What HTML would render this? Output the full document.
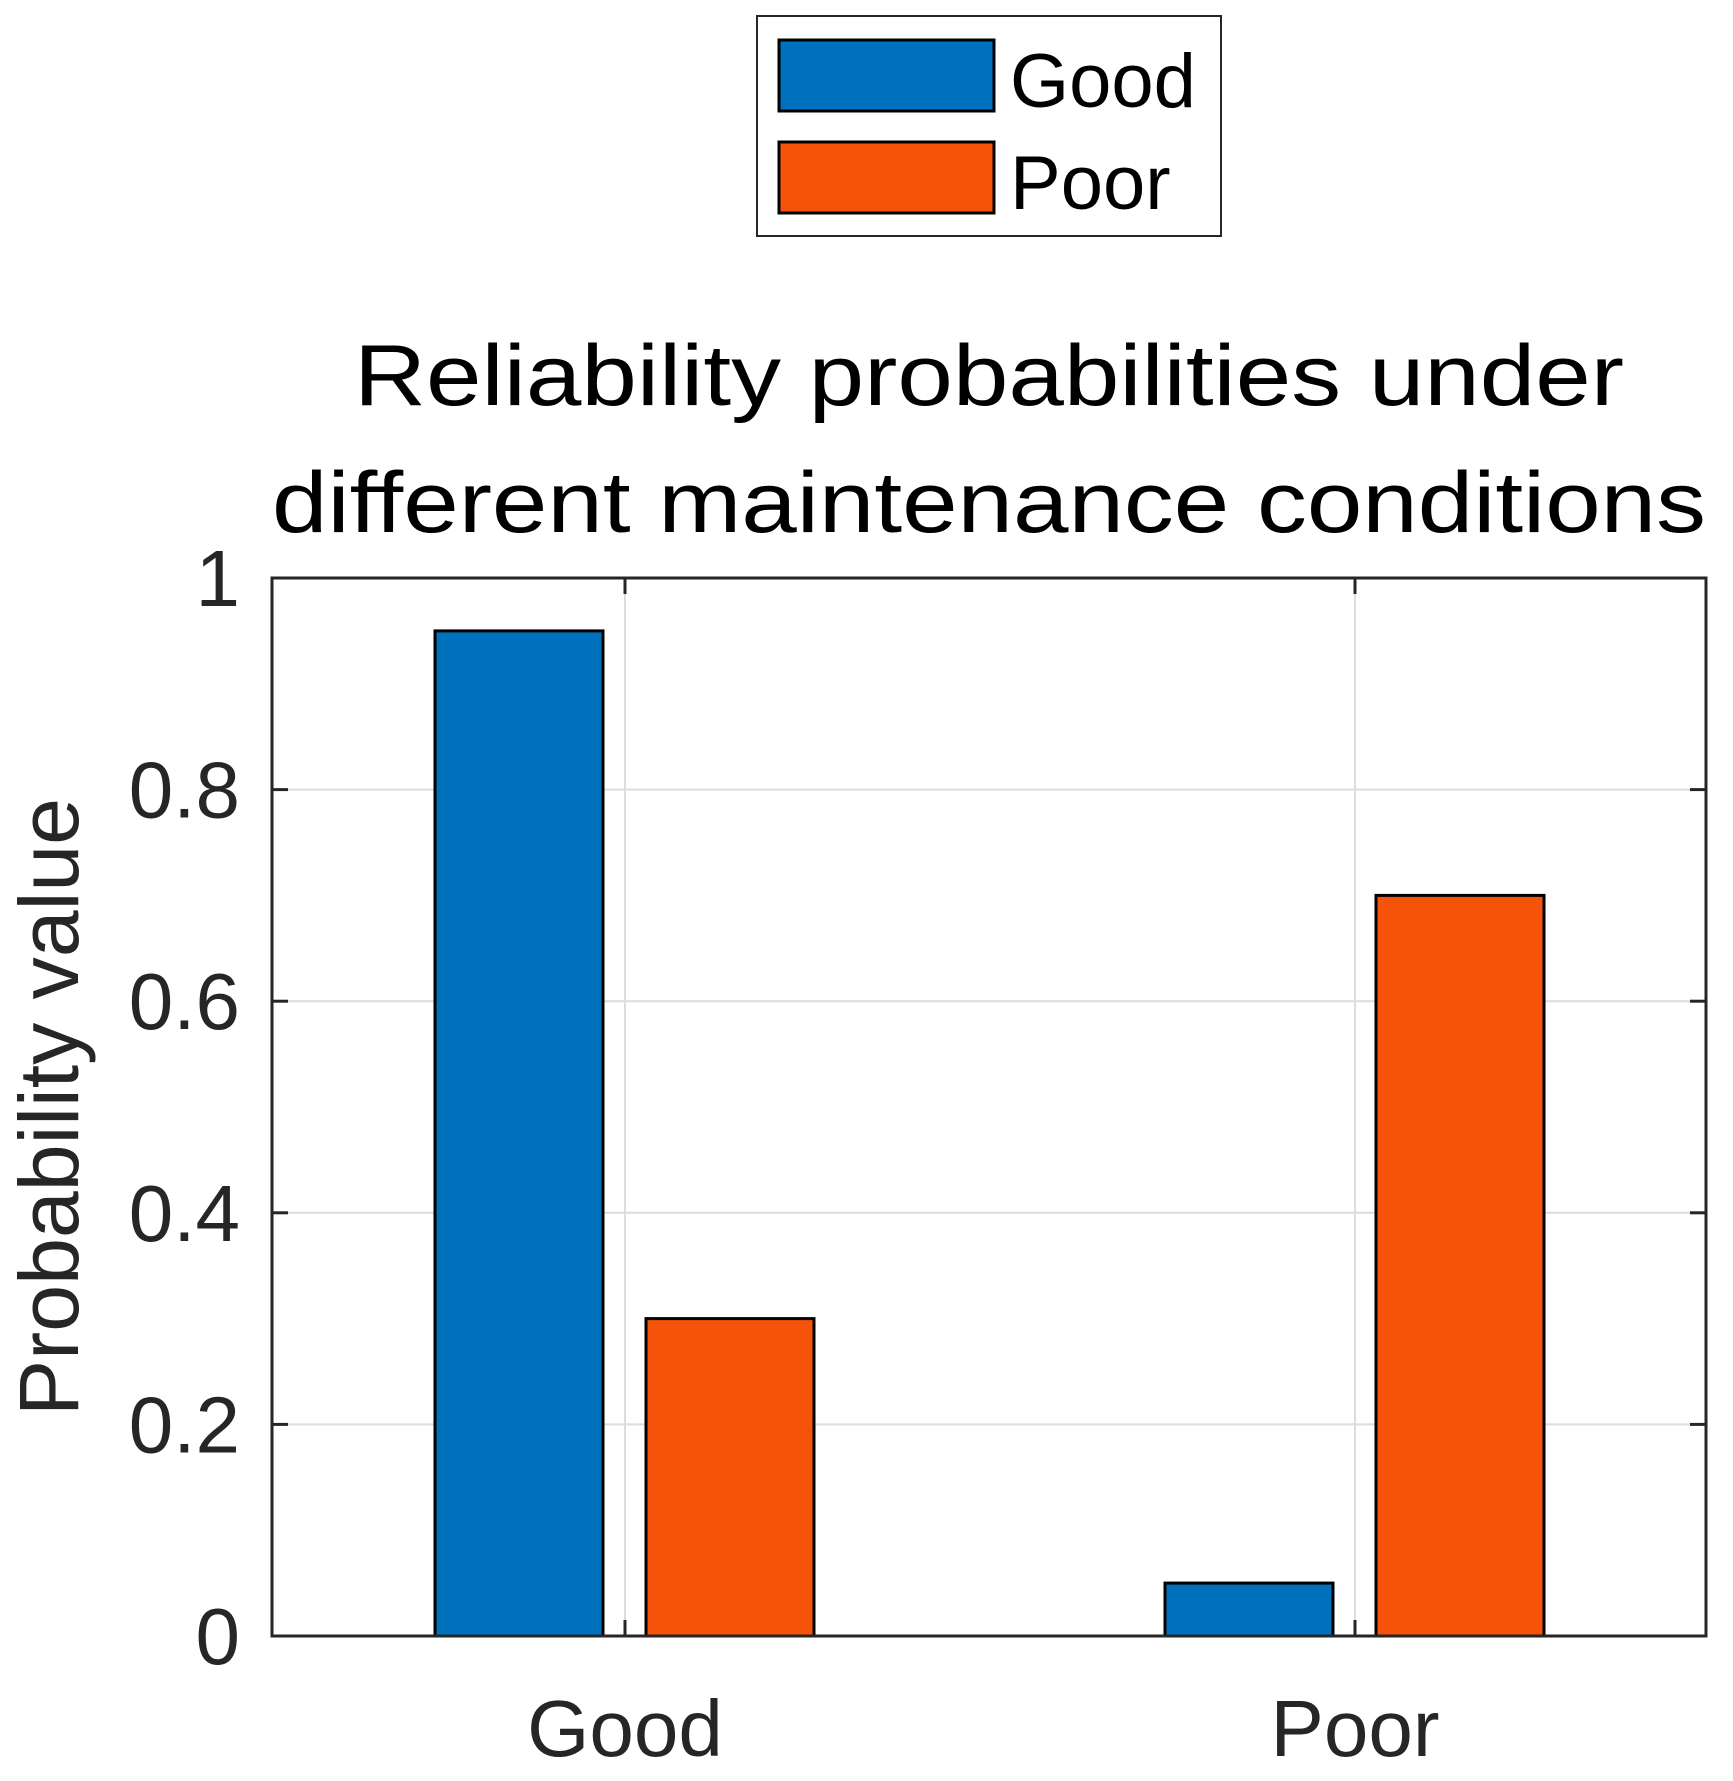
<!DOCTYPE html>
<html><head><meta charset="utf-8"><style>
html,body{margin:0;padding:0;background:#fff;}
svg{display:block;font-family:"Liberation Sans",Arial,sans-serif;}
</style></head><body>
<svg id="chart" width="1733" height="1781" viewBox="0 0 1733 1781">
<rect width="1733" height="1781" fill="#fff"/>
<g id="grid"></g>
<g id="bars"></g>
<rect x="272" y="578" width="1434" height="1058" fill="none" stroke="#262626" stroke-width="3"/>
<g id="ticks"></g>
<text x="989" y="405" text-anchor="middle" font-size="86" fill="#000" textLength="1270" lengthAdjust="spacingAndGlyphs">Reliability probabilities under</text>
<text x="989" y="532" text-anchor="middle" font-size="86" fill="#000" textLength="1434" lengthAdjust="spacingAndGlyphs">different maintenance conditions</text>
<text transform="translate(78,1107) rotate(-90)" text-anchor="middle" font-size="84" fill="#262626" textLength="618" lengthAdjust="spacingAndGlyphs">Probability value</text>
<g>
<rect x="757" y="16" width="464" height="220" fill="#fff" stroke="#262626" stroke-width="2"/>
<rect x="779" y="40" width="215" height="71" fill="#0072BD" stroke="#000" stroke-width="3"/>
<text x="1010" y="107" font-size="76" fill="#000">Good</text>
<rect x="779" y="142" width="215" height="71" fill="#F55309" stroke="#000" stroke-width="3"/>
<text x="1010" y="209" font-size="76" fill="#000">Poor</text>
</g>
</svg>
<script>
const categories = ["Good", "Poor"];
const seriesNames = ["Good", "Poor"];
const goodValues = [0.95, 0.05];
const poorValues = [0.3, 0.7];
const yTicks = [0, 0.2, 0.4, 0.6, 0.8, 1];
const yTickLabels = ["0", "0.2", "0.4", "0.6", "0.8", "1"];

const NS = "http://www.w3.org/2000/svg";
const L = 272, R = 1706, T = 578, B = 1636;
const xC = i => 625 + i * 730;
const yS = v => B - v * (B - T);
const barW = 168, offs = [-106, 105], colors = ["#0072BD", "#F55309"];
function mk(tag, attrs, parent) {
  const e = document.createElementNS(NS, tag);
  for (const k in attrs) e.setAttribute(k, attrs[k]);
  document.getElementById(parent).appendChild(e);
  return e;
}
yTicks.forEach((v, i) => {
  const g = mk("line", {x1: L, x2: R, y1: yS(v), y2: yS(v), stroke: "#dcdcdc", "stroke-width": 2}, "grid");
  
  
  const t1 = mk("line", {x1: L, x2: L + 16, y1: yS(v), y2: yS(v), stroke: "#262626", "stroke-width": 3}, "ticks");
  
  
  const t2 = mk("line", {x1: R - 16, x2: R, y1: yS(v), y2: yS(v), stroke: "#262626", "stroke-width": 3}, "ticks");
  
  
  const lb = mk("text", {x: 240, y: yS(v) + 28, "text-anchor": "end", "font-size": 80, fill: "#262626"}, "ticks");
  lb.textContent = yTickLabels[i];
  
  
});
categories.forEach((c, i) => {
  const g = mk("line", {x1: xC(i), x2: xC(i), y1: T, y2: B, stroke: "#dcdcdc", "stroke-width": 2}, "grid");
  
  
  const tk = mk("line", {x1: xC(i), x2: xC(i), y1: B - 16, y2: B, stroke: "#262626", "stroke-width": 3}, "ticks");
  
  
  const tk2 = mk("line", {x1: xC(i), x2: xC(i), y1: T, y2: T + 16, stroke: "#262626", "stroke-width": 3}, "ticks");
  
  
  const lb = mk("text", {x: xC(i), y: 1756, "text-anchor": "middle", "font-size": 80, fill: "#262626"}, "ticks");
  lb.textContent = c;
  
  
  [goodValues, poorValues].forEach((vals, s) => {
    const v = vals[i];
    const b = mk("rect", {x: xC(i) + offs[s] - barW / 2, y: yS(v), width: barW, height: B - yS(v), fill: colors[s], stroke: "#000", "stroke-width": 3}, "bars");
    
    
  });
});
</script>
</body></html>
